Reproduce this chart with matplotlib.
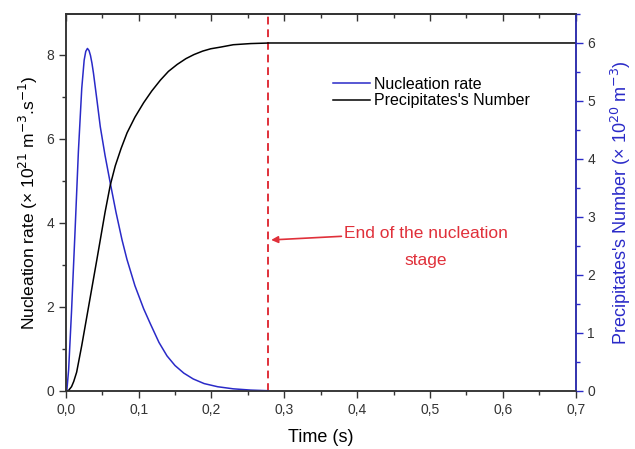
import matplotlib
matplotlib.use("Agg")
import matplotlib.pyplot as plt
from matplotlib.lines import Line2D
from matplotlib.ticker import MultipleLocator, FuncFormatter

plt.rcParams["font.family"] = ["Liberation Sans", "DejaVu Sans"]

# nucleation rate (left axis, x 10^21 m^-3.s^-1)
t_rate = [0.0, 0.0015, 0.004, 0.008, 0.0128, 0.0174, 0.022, 0.0253, 0.0275, 0.0298,
          0.032, 0.034, 0.036, 0.0381, 0.043, 0.0474, 0.054, 0.0612, 0.069, 0.0773,
          0.084, 0.095, 0.107, 0.116, 0.128, 0.139, 0.150, 0.162, 0.175, 0.190,
          0.2085, 0.230, 0.254, 0.278]
rate = [0.0, 0.0, 0.5, 1.9, 3.8, 5.7, 7.2, 7.87, 8.08, 8.15,
        8.1, 7.98, 7.8, 7.56, 6.9, 6.29, 5.6, 4.94, 4.25, 3.59,
        3.13, 2.5, 1.95, 1.6, 1.15, 0.83, 0.6, 0.42, 0.28, 0.17,
        0.095, 0.045, 0.015, 0.0]

# precipitates number (right axis, x 10^20 m^-3)
t_num = [0.0, 0.0036, 0.008, 0.011, 0.015, 0.022, 0.029, 0.036, 0.043, 0.0474,
         0.054, 0.0612, 0.068, 0.076, 0.0842, 0.095, 0.107, 0.118, 0.130, 0.141,
         0.153, 0.165, 0.176, 0.188, 0.199, 0.213, 0.230, 0.254, 0.28, 0.70]
number = [0.0, 0.0, 0.07, 0.16, 0.32, 0.78, 1.28, 1.78, 2.28, 2.60,
          3.08, 3.55, 3.88, 4.18, 4.45, 4.72, 4.97, 5.17, 5.36, 5.51,
          5.63, 5.73, 5.80, 5.86, 5.90, 5.93, 5.97, 5.99, 6.0, 6.0]

t_end = 0.278
blue = "#2a2ac8"
red = "#e0303a"
dark = "#333333"

fig = plt.figure(figsize=(6.35, 4.49), dpi=100)
ax = fig.add_axes([0.1035, 0.1298, 0.8031, 0.839])
ax2 = ax.twinx()

ax.plot(t_rate, rate, color=blue, lw=1.1, zorder=3)
ax2.plot(t_num, number, color="black", lw=1.1)
ax.axvline(t_end, color=red, lw=1.4, ls=(0, (4, 2.5)))

ax.set_xlim(0, 0.7)
ax.set_ylim(0, 8.97)
ax2.set_ylim(0, 6.5)

fmt = FuncFormatter(lambda v, p: f"{v:.1f}".replace(".", ","))
ax.xaxis.set_major_locator(MultipleLocator(0.1))
ax.xaxis.set_minor_locator(MultipleLocator(0.05))
ax.xaxis.set_major_formatter(fmt)
ax.yaxis.set_major_locator(MultipleLocator(2))
ax.yaxis.set_minor_locator(MultipleLocator(1))
ax2.yaxis.set_major_locator(MultipleLocator(1))
ax2.yaxis.set_minor_locator(MultipleLocator(0.5))

for a in (ax, ax2):
    for s in a.spines.values():
        s.set_linewidth(1.1)
        s.set_color(dark)
ax2.spines["right"].set_color(blue)

ax.tick_params(which="major", length=5, width=1.0, color=dark, labelsize=10, labelcolor=dark)
ax.tick_params(which="minor", length=3, width=1.0, color=dark)
ax2.tick_params(which="major", length=5, width=1.0, color=blue, labelsize=10, labelcolor=dark)
ax2.tick_params(which="minor", length=3, width=1.0, color=blue)

top = ax.secondary_xaxis("top")
top.xaxis.set_major_locator(MultipleLocator(0.1))
top.xaxis.set_minor_locator(MultipleLocator(0.05))
top.tick_params(which="major", direction="in", length=5, width=1.0, color=dark, labeltop=False)
top.tick_params(which="minor", direction="in", length=3, width=1.0, color=dark)
top.spines["top"].set_linewidth(1.1)
top.spines["top"].set_color(dark)

ax.set_xlabel("Time (s)", fontsize=13, labelpad=9)
ax.set_ylabel("Nucleation rate (× 10$^{21}$ m$^{-3}$.s$^{-1}$)", fontsize=12.5, labelpad=4)
ax2.set_ylabel("Precipitates's Number (× 10$^{20}$ m$^{-3}$)", fontsize=13, color=blue, labelpad=10)

handles = [Line2D([], [], color=blue, lw=1.1), Line2D([], [], color="black", lw=1.1)]
ax2.legend(handles, ["Nucleation rate", "Precipitates's Number"], loc="upper left",
           bbox_to_anchor=(0.524, 0.834), frameon=False, fontsize=11.5, borderpad=0,
           borderaxespad=0, handlelength=2.3, handletextpad=0.3, labelspacing=0.12)

ax.annotate("End of the nucleation\nstage", xy=(0.282, 3.59), xytext=(0.4947, 3.43),
            color=red, fontsize=12.5, ha="center", va="center", linespacing=2.0,
            arrowprops=dict(arrowstyle="-|>", color=red, lw=1.2, mutation_scale=10,
                            shrinkA=0, shrinkB=0, relpos=(0.0, 0.75)))

fig.savefig("out.png", dpi=100)
